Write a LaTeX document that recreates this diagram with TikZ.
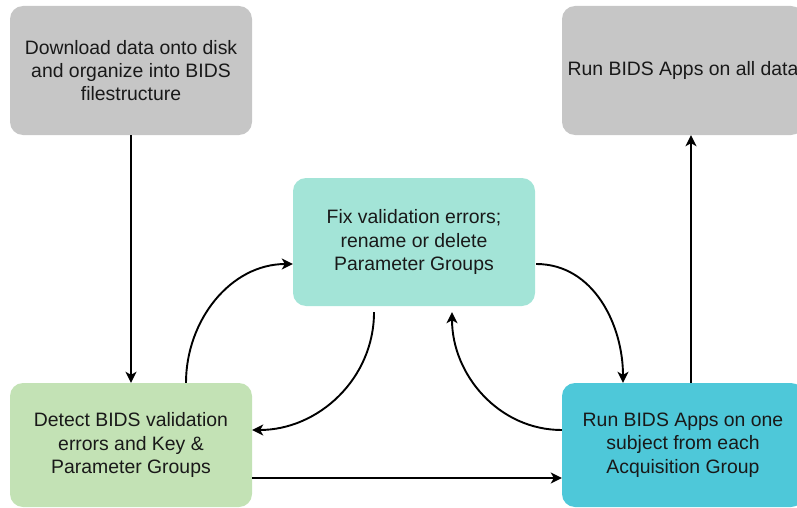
\documentclass[tikz,border=0pt]{standalone}
\usepackage{fontspec}
\setmainfont{Liberation Sans}
\usetikzlibrary{arrows.meta}
\definecolor{boxgray}{HTML}{C6C6C6}
\definecolor{boxmint}{HTML}{A3E4D7}
\definecolor{boxgreen}{HTML}{C3E2B5}
\definecolor{boxcyan}{HTML}{4EC8D9}

\begin{document}
\begin{tikzpicture}[x=1pt,y=-1pt]
      \tikzstyle{every node} = [rounded corners=13pt, align=center, inner sep=0pt, text=black!90, font=\fontsize{19.4}{23.3}\selectfont]
      \tikzstyle{stepbox} = [minimum width=242pt, minimum height=129pt]
      \tikzstyle{link} = [line width=1.9pt, -{Stealth[length=11pt,width=11pt,inset=3pt]}]
      \useasboundingbox (0,0) rectangle (797,508);
      \node[stepbox, fill=boxgray](download) at (131,70.5) {Download data onto disk\\and organize into BIDS\\filestructure};
      \node[stepbox, fill=boxgray](alldata) at (683,70.5) {Run BIDS Apps on all data};
      \node[stepbox, fill=boxmint, minimum height=128pt](fix) at (414,242) {Fix validation errors;\\rename or delete\\Parameter Groups};
      \node[stepbox, fill=boxgreen, minimum height=124pt](detect) at (131,445) {Detect BIDS validation\\errors and Key \&\\Parameter Groups};
      \node[stepbox, fill=boxcyan, minimum height=124pt](onesub) at (683,445) {Run BIDS Apps on one\\subject from each\\Acquisition Group};
      \path[link]
      (download) edge (detect);
      \path[link]
      ([xshift=8pt]onesub.north) edge ([xshift=8pt]alldata.south);
      \path[link]
      ([yshift=-33pt]detect.east) edge ([yshift=-33pt]onesub.west);
      \path[link]
      ([xshift=55pt]detect.north) edge[out=90, in=180] ([yshift=-22pt]fix.west);
      \path[link]
      ([xshift=-40pt, yshift=-6pt]fix.south) edge[out=-90, in=0] ([yshift=15pt]detect.east);
      \path[link]
      ([xshift=1pt, yshift=-22pt]fix.east) edge[out=0, in=90] ([xshift=-60pt]onesub.north);
      \path[link]
      ([yshift=15pt]onesub.west) edge[out=180, in=-90] ([xshift=38pt, yshift=-6pt]fix.south);
    \end{tikzpicture}
\end{document}
